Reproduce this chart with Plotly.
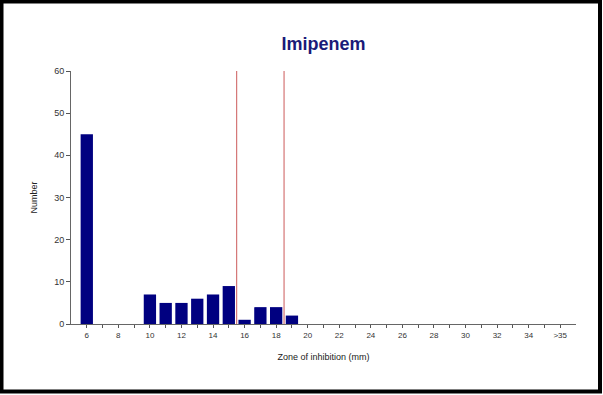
import plotly.graph_objects as go

zones = list(range(6, 37))
counts = [45, 0, 0, 0, 7, 5, 5, 6, 7, 9, 1, 4, 4, 2] + [0] * 17
tick_labels = [str(z) if z % 2 == 0 else "" for z in zones]
tick_labels[-1] = ">35"
breakpoints = [15.5, 18.5]

W, H = 603, 395
L, R, T, B = 71, 27, 71, 71
pw, ph = W - L - R, H - T - B

fig = go.Figure()
fig.add_trace(go.Bar(x=zones, y=counts, marker=dict(color="#000080", line=dict(width=0)),
                     width=0.78, showlegend=False))

for bp in breakpoints:
    fig.add_shape(type="line", xref="x", yref="y", x0=bp, x1=bp, y0=0, y1=60,
                  line=dict(color="#cc5a5a", width=1))

# outer frame
fig.add_shape(type="rect", xref="paper", yref="paper",
              x0=(1.5 - L) / pw, x1=(600 - L) / pw,
              y0=(H - B - 391.5) / ph, y1=(H - B - 1.5) / ph,
              line=dict(color="black", width=4), layer="above")

font = "Liberation Sans, Arial, sans-serif"
fig.update_layout(
    width=W, height=H,
    margin=dict(l=L, r=R, t=T, b=B),
    paper_bgcolor="white", plot_bgcolor="white",
    title=dict(text="<b>Imipenem</b>", x=(L + pw / 2) / W, xanchor="center",
               y=1 - 44 / H, yanchor="middle", yref="container",
               font=dict(family=font, size=18, color="#1a1a78")),
    font=dict(family=font, size=9, color="#333333"),
    xaxis=dict(range=[5, 37], tickmode="array", tickvals=zones, ticktext=tick_labels,
               ticks="outside", ticklen=3, tickcolor="#555555", showline=True,
               linecolor="#666666", linewidth=1, showgrid=False, zeroline=False,
               tickfont=dict(size=8, color="#333333"),
               title=dict(text="Zone of inhibition (mm)", font=dict(size=9, color="#222222"), standoff=15)),
    yaxis=dict(range=[0, 60], dtick=10, ticks="outside", ticklen=4, tickcolor="#555555",
               showline=True, linecolor="#666666", linewidth=1, showgrid=False, zeroline=False,
               tickfont=dict(size=9, color="#333333"),
               title=dict(text="Number", font=dict(size=9, color="#222222"), standoff=15)),
)

fig.write_html("out.html", config={"displayModeBar": False},
               post_script="document.body.style.margin='0';document.body.style.overflow='hidden';")
